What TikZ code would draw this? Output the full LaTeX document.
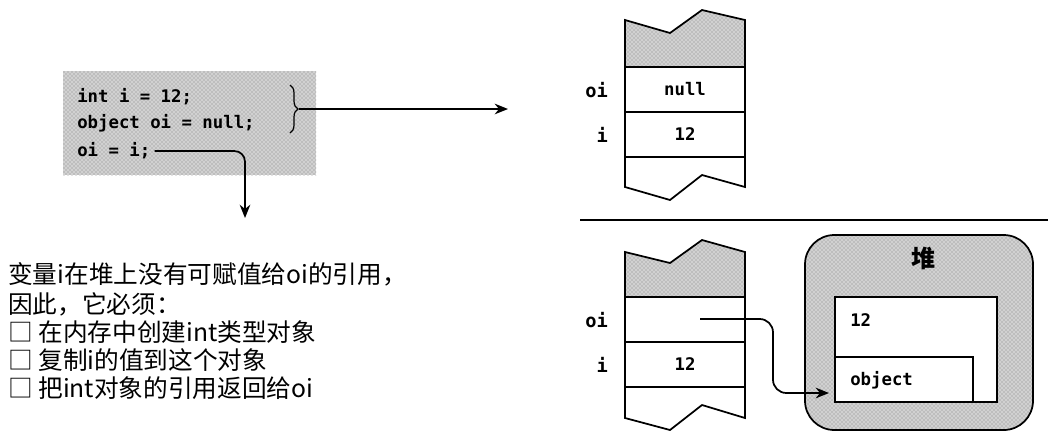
\documentclass[tikz,border=0pt]{standalone}
\usepackage{fontspec}
\setmonofont{DejaVu Sans Mono}
\newfontfamily\cjk{Noto Sans CJK SC}
\usetikzlibrary{arrows.meta,patterns,positioning,decorations.pathreplacing}

\begin{document}
\begin{tikzpicture}[
        x=0.75pt, y=-0.75pt,
        stipple/.style={preaction={fill=black!18}, pattern=crosshatch dots, pattern color=black!50},
        cell/.style={rectangle, draw=black, line width=1.3pt, minimum width=90pt, minimum height=33.75pt, inner sep=0pt, font=\ttfamily\bfseries\fontsize{13}{13}\selectfont},
        slot/.style={anchor=east, inner sep=0pt, font=\ttfamily\bfseries\fontsize{14}{14}\selectfont},
        code/.style={anchor=west, inner sep=0pt, font=\ttfamily\bfseries\fontsize{13}{13}\selectfont},
        note/.style={inner sep=0pt, align=left, font=\cjk\fontsize{18.5}{21}\selectfont},
        edge/.style={line width=1.3pt, draw=black},
        arrow/.style={-{Stealth[length=10pt,width=8pt]}, line width=1.3pt, draw=black}
    ]
    \useasboundingbox (0,0) rectangle (1059,444);

    % Code block
    \node[stipple, minimum width=189.75pt, minimum height=78pt, inner sep=0pt] (codebox) at (189.5,123) {};
    \node[code] (line1) at (77,97) {int i = 12;};
    \node[code] (line2) at (77,123) {object oi = null;};
    \node[code] (line3) at (77,151) {oi = i;};
    \coordinate (bracetop) at (290,85);
    \coordinate (bracebot) at (290,133);
    \draw[line width=0.9pt, decorate, decoration={brace, amplitude=6pt}] (bracetop) -- (bracebot);
    \coordinate (brace) at (299,109);
    \coordinate (into) at (508,109);
    \coordinate (down) at (245,218);

    % Explanation
    \node[note, anchor=north west] (note) at (8,262) {变量i在堆上没有可赋值给oi的引用，\\[2pt]因此，它必须：\\□ 在内存中创建int类型对象\\□ 复制i的值到这个对象\\□ 把int对象的引用返回给oi};

    % Stack before boxing
    \draw[edge, stipple] (625,67) -- (625,20) -- (670,33) -- (702,10) -- (745,20) -- (745,67) -- cycle;
    \node[cell] (topoi) at (685,89.5) {null};
    \node[cell] (topi) at (685,134.5) {12};
    \draw[edge] (625,157) -- (625,187) -- (670,200) -- (702,175) -- (745,187) -- (745,157);
    \node[slot] (topoilabel) at (608,90) {oi};
    \node[slot] (topilabel) at (608,135) {i};

    \draw[edge] (580,220) -- (1048,220);

    % Stack after boxing
    \draw[edge, stipple] (625,297) -- (625,252) -- (670,263) -- (702,240) -- (745,252) -- (745,297) -- cycle;
    \node[cell] (botoi) at (685,319.5) {};
    \node[cell] (boti) at (685,364.5) {12};
    \draw[edge] (625,387) -- (625,418) -- (670,430) -- (702,405) -- (745,418) -- (745,387);
    \node[slot] (botoilabel) at (608,320) {oi};
    \node[slot] (botilabel) at (608,365) {i};

    % Heap
    \node[edge, stipple, rounded corners=22pt, minimum width=171pt, minimum height=146.25pt] (heap) at (919,332.5) {};
    \node[inner sep=0pt, font=\cjk\bfseries\fontsize{18}{18}\selectfont] (heaplabel) at (923,258) {堆};
    \node[edge, fill=white, minimum width=121.5pt, minimum height=78.75pt] (boxed) at (916,349.5) {};
    \node[edge, fill=white, minimum width=103.5pt, minimum height=33.75pt] (objhdr) at (904,379.5) {};
    \node[code] (boxval) at (850,320) {12};
    \node[code] (objtype) at (850,380) {object};
    \coordinate (ref) at (700,319);
    \coordinate (tip) at (829,393);

    % Connections
    \draw[arrow] (brace) -- (into);
    \draw[arrow, rounded corners=8pt] ([xshift=3pt]line3.east) -| (down);
    \draw[arrow, rounded corners=10pt] (ref) -| ([xshift=-42pt]tip) -- (tip);
\end{tikzpicture}
\end{document}
